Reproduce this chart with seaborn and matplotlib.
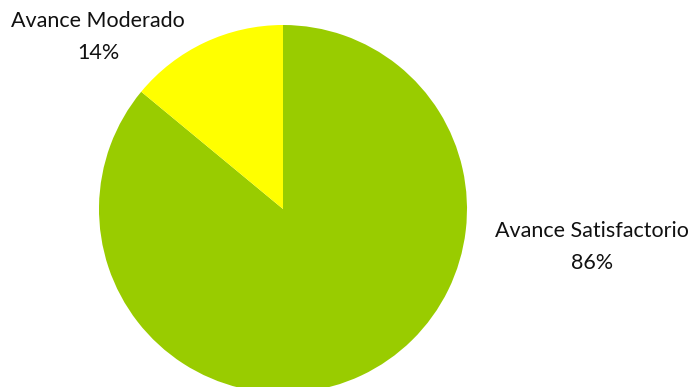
import matplotlib
matplotlib.use("Agg")
import matplotlib.pyplot as plt
import seaborn as sns

categorias = ["Avance Satisfactorio", "Avance Moderado"]
porcentajes = [86, 14]
colores = ["#99CC00", "#FFFF00"]

sns.set_style("white")
plt.rcParams['font.family'] = ['Lato', 'DejaVu Sans']

fig = plt.figure(figsize=(6.95, 3.87), dpi=100)
# pie circle: center ~ (283, 209) px, radius ~ 184 px
W, H = 695, 387
r = 184
ax = fig.add_axes([(283 - r) / W, (H - 209 - r) / H, 2 * r / W, 2 * r / H])

wedges, _ = ax.pie(porcentajes, colors=colores, startangle=90, counterclock=False,
                   radius=1, wedgeprops=dict(linewidth=0))
ax.set_xlim(-1, 1)
ax.set_ylim(-1, 1)
ax.set_aspect('equal')
ax.axis('off')

# label positions (data units relative to the pie)
pos = {"Avance Satisfactorio": (1.68, -0.207), "Avance Moderado": (-1.005, 0.935)}
for cat, val in zip(categorias, porcentajes):
    x, y = pos[cat]
    ax.text(x, y, f"{cat}\n{val}%", ha='center', va='center', fontsize=15.5,
            linespacing=1.7, color='#111111', clip_on=False)

fig.savefig("out.png", dpi=100)
